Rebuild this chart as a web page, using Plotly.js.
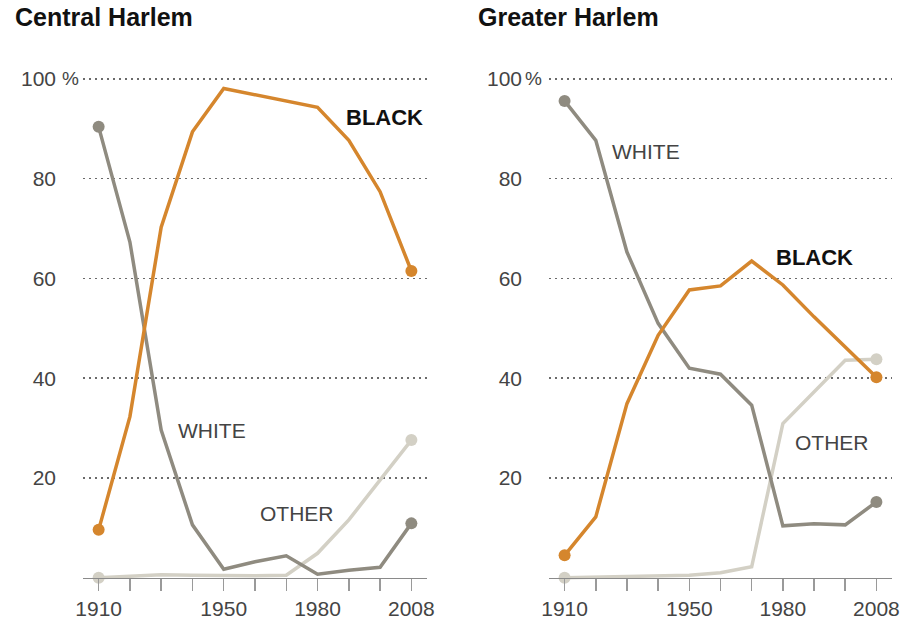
<!DOCTYPE html>
<html>
<head>
<meta charset="utf-8">
<script src="https://cdn.plot.ly/plotly-3.0.1.min.js"></script>
<style>html,body{margin:0;padding:0;background:#fff;}#chart{width:906px;height:625px;}</style>
</head>
<body>
<div id="chart"></div>
<script>
const years = ["1910","1920","1930","1940","1950","1960","1970","1980","1990","2000","2008"];
const xTickText = ["1910","","","","1950","","","1980","","","2008"];
const yTickVals = [20, 40, 60, 80, 100];
const yTickText = ["20", "40", "60", "80", "100"];

const centralBlack = [9.6, 32.3, 70.3, 89.4, 98.1, 96.8, 95.6, 94.3, 87.7, 77.4, 61.5];
const centralWhite = [90.4, 67.3, 29.6, 10.6, 1.7, 3.2, 4.4, 0.7, 1.5, 2.1, 10.9];
const centralOther = [0, 0.3, 0.6, 0.5, 0.4, 0.4, 0.5, 4.9, 11.6, 19.6, 27.6];

const greaterBlack = [4.5, 12.2, 34.9, 48.6, 57.7, 58.5, 63.5, 58.7, 52.3, 46.3, 40.2];
const greaterWhite = [95.6, 87.7, 65.3, 51.0, 42.0, 40.8, 34.6, 10.4, 10.8, 10.6, 15.2];
const greaterOther = [0, 0.1, 0.3, 0.4, 0.5, 1.0, 2.2, 30.9, 37.2, 43.6, 43.8];

const COL = {black: '#d5862d', white: '#8f8b80', other: '#d3d0c5'};
const FONT = '"Liberation Sans", Arial, Helvetica, sans-serif';

function endSizes(arr) { return arr.map((v, i) => (i === 0 || i === arr.length - 1) ? 12 : 0); }
function tr(y, color, xa, ya) {
  return {x: years, y: y, xaxis: xa, yaxis: ya, type: 'scatter', mode: 'lines+markers',
    line: {color: color, width: 3.5},
    marker: {color: color, size: endSizes(y), opacity: 1, line: {width: 0}},
    opacity: 1, cliponaxis: false, hoverinfo: 'skip'};
}
const data = [
  tr(centralOther, COL.other, 'x', 'y'),
  tr(centralWhite, COL.white, 'x', 'y'),
  tr(centralBlack, COL.black, 'x', 'y'),
  tr(greaterOther, COL.other, 'x2', 'y2'),
  tr(greaterWhite, COL.white, 'x2', 'y2'),
  tr(greaterBlack, COL.black, 'x2', 'y2')
];

const W = 906, H = 625;
const xPos = 1 - 577.7 / H;
function xax(domain) {
  return {type: 'category', domain: domain, range: [-0.5, 10.5], anchor: 'free', position: xPos,
    showline: true, linecolor: '#8a8a8a', linewidth: 1.5, showgrid: false, zeroline: false,
    ticks: 'outside', ticklen: 12, tickwidth: 1.5, tickcolor: '#9a9a9a',
    tickmode: 'array', tickvals: years, ticktext: xTickText,
    tickfont: {family: FONT, size: 21, color: '#444'}, fixedrange: true};
}
function yax(anchor) {
  return {range: [-3, 103], domain: [1 - 592.7 / H, 1 - 64 / H], anchor: anchor,
    showline: false, zeroline: false, showgrid: true, gridcolor: '#6a6a6a', griddash: '1.5px,4.5px', gridwidth: 1.5,
    tickmode: 'array', tickvals: yTickVals, ticktext: yTickText, ticks: '',
    ticklabelstandoff: 26, tickfont: {family: FONT, size: 21, color: '#444'}, fixedrange: true};
}

function lab(text, xa, ya, x, y, bold) {
  return {text: bold ? '<b>' + text + '</b>' : text, xref: xa, yref: ya, x: x, y: y,
    showarrow: false, xanchor: 'center', yanchor: 'middle',
    font: {family: FONT, size: bold ? 22 : 21, color: bold ? '#111' : '#444'}};
}

const layout = {
  width: W, height: H, margin: {l: 0, r: 0, t: 0, b: 0},
  paper_bgcolor: '#fff', plot_bgcolor: 'rgba(0,0,0,0)', showlegend: false, hovermode: false,
  xaxis: xax([83 / W, 427 / W]),
  yaxis: yax('x'),
  xaxis2: xax([549 / W, 892 / W]),
  yaxis2: yax('x2'),
  annotations: [
    {text: '<b>Central Harlem</b>', xref: 'paper', yref: 'paper', x: 13 / W, y: 1 - 17 / H,
      xanchor: 'left', yanchor: 'middle', showarrow: false, font: {family: FONT, size: 25, color: '#111'}},
    {text: '<b>Greater Harlem</b>', xref: 'paper', yref: 'paper', x: 476 / W, y: 1 - 17 / H,
      xanchor: 'left', yanchor: 'middle', showarrow: false, font: {family: FONT, size: 25, color: '#111'}},
    {text: '%', xref: 'paper', yref: 'y', x: 70 / W, y: 100, xanchor: 'center', yanchor: 'middle',
      showarrow: false, font: {family: FONT, size: 19, color: '#444'}},
    {text: '%', xref: 'paper', yref: 'y2', x: 533 / W, y: 100, xanchor: 'center', yanchor: 'middle',
      showarrow: false, font: {family: FONT, size: 19, color: '#444'}},
    lab('BLACK', 'x', 'y', 9.14, 92.3, true),
    lab('WHITE', 'x', 'y', 3.61, 29.6, false),
    lab('OTHER', 'x', 'y', 6.34, 12.9, false),
    lab('WHITE', 'x2', 'y2', 2.61, 85.5, false),
    lab('BLACK', 'x2', 'y2', 8.01, 64.2, true),
    lab('OTHER', 'x2', 'y2', 8.59, 27.1, false)
  ]
};

Plotly.newPlot('chart', data, layout, {displayModeBar: false, staticPlot: true});
</script>
</body>
</html>
